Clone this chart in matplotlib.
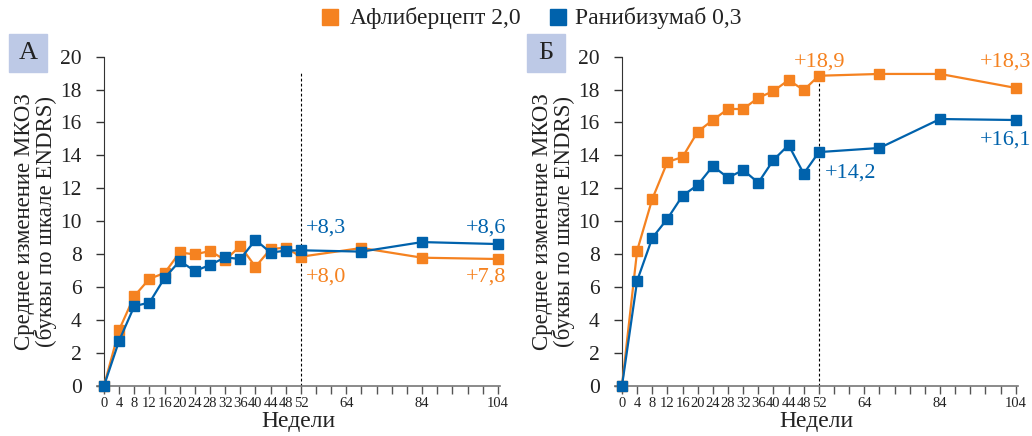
import matplotlib
matplotlib.use("Agg")
import matplotlib.pyplot as plt
from matplotlib.lines import Line2D
from matplotlib.patches import Rectangle

plt.rcParams['font.family'] = ['Liberation Serif', 'DejaVu Serif']

weeks = [0, 4, 8, 12, 16, 20, 24, 28, 32, 36, 40, 44, 48, 52, 68, 84, 104]
xtick_labels = [0, 4, 8, 12, 16, 20, 24, 28, 32, 36, 40, 44, 48, 52, 64, 84, 104]

# panel A
afl_a = [0, 3.4, 5.45, 6.5, 6.85, 8.1, 7.98, 8.19, 7.64, 8.49, 7.23, 8.31, 8.39, 7.84, 8.37, 7.78, 7.7]
ran_a = [0, 2.74, 4.84, 5.05, 6.55, 7.58, 6.97, 7.34, 7.8, 7.7, 8.86, 8.09, 8.21, 8.23, 8.15, 8.73, 8.61]
# panel B
afl_b = [0, 8.21, 11.35, 13.6, 13.9, 15.44, 16.15, 16.82, 16.82, 17.5, 17.91, 18.58, 17.97, 18.84, 18.95, 18.95, 18.1]
ran_b = [0, 6.38, 8.98, 10.15, 11.55, 12.2, 13.35, 12.64, 13.11, 12.34, 13.72, 14.63, 12.89, 14.2, 14.45, 16.21, 16.15]

series_names = ['Афлиберцепт 2,0', 'Ранибизумаб 0,3']

orange = '#f58220'
blue = '#0062ac'
box_col = '#bdc9e6'

fig = plt.figure(figsize=(10.32, 4.36), dpi=100)

def panel(left, afl, ran, notes):
    ax = fig.add_axes([left, 0.1154, 0.390, 0.7546])
    ax.plot(weeks, afl, color=orange, lw=1.6, marker='s', ms=6.5, clip_on=False, zorder=3)
    ax.plot(weeks, ran, color=blue, lw=1.6, marker='s', ms=6.5, clip_on=False, zorder=4)
    ax.plot([52, 52], [0, 19], color='black', lw=0.8, ls=(0, (2.5, 2)), zorder=2)
    ax.set_xlim(-1.8, 104.5)
    ax.set_ylim(0, 20)
    for s in ['top', 'right']:
        ax.spines[s].set_visible(False)
    ax.spines['left'].set_position(('data', 0))
    ax.spines['left'].set_color('#333333')
    ax.spines['bottom'].set_color('#777777')
    ax.spines['bottom'].set_linewidth(1.2)
    ax.set_yticks(range(0, 21, 2))
    ax.set_xticks(xtick_labels)
    ax.set_xticklabels([str(v) for v in xtick_labels])
    ax.set_xticks(range(0, 105, 4), minor=True)
    ax.tick_params(axis='y', length=6, width=1, color='#333333', pad=10, labelsize=15.5, labelcolor='#222222')
    ax.tick_params(axis='x', which='both', length=6, width=1, color='#555555', pad=2, labelsize=10.5, labelcolor='#222222')
    ax.set_xlabel('Недели', fontsize=17, labelpad=1, color='#222222')
    ax.set_ylabel('Среднее изменение МКОЗ\n(буквы по шкале ENDRS)', fontsize=16.5,
                  color='#222222', linespacing=1.0, labelpad=2)
    for (x, y, t, c, ha) in notes:
        ax.text(x, y, t, color=c, fontsize=16, ha=ha, va='center', clip_on=False)
    return ax

panel(0.0942, afl_a, ran_a, [
    (53.3, 9.56, '+8,3', blue, 'left'),
    (53.3, 6.63, '+8,0', orange, 'left'),
    (106.3, 9.56, '+8,6', blue, 'right'),
    (106.3, 6.63, '+7,8', orange, 'right'),
])
panel(0.5961, afl_b, ran_b, [
    (45.4, 19.66, '+18,9', orange, 'left'),
    (108.2, 19.66, '+18,3', orange, 'right'),
    (53.7, 12.95, '+14,2', blue, 'left'),
    (108.2, 14.93, '+16,1', blue, 'right'),
])

# panel letters
for x0, letter in [(9, 'А'), (527, 'Б')]:
    fig.patches.append(Rectangle((x0 / 1032, (436 - 72) / 436), 38 / 1032, 38 / 436,
                                 transform=fig.transFigure, color=box_col, zorder=0))
    fig.text((x0 + 19) / 1032, (436 - 53) / 436, letter, fontsize=19, ha='center', va='center',
             color='#222222')

# legend
for (sx, tx, c, name) in [(330, 350, orange, series_names[0]), (558, 575, blue, series_names[1])]:
    fig.add_artist(Line2D([sx / 1032], [(436 - 17.5) / 436], color=c, marker='s', ms=11,
                          ls='none', transform=fig.transFigure))
    fig.text(tx / 1032, (436 - 18) / 436, name, fontsize=17, ha='left', va='center', color='#222222')

fig.savefig('out.png', dpi=100)
